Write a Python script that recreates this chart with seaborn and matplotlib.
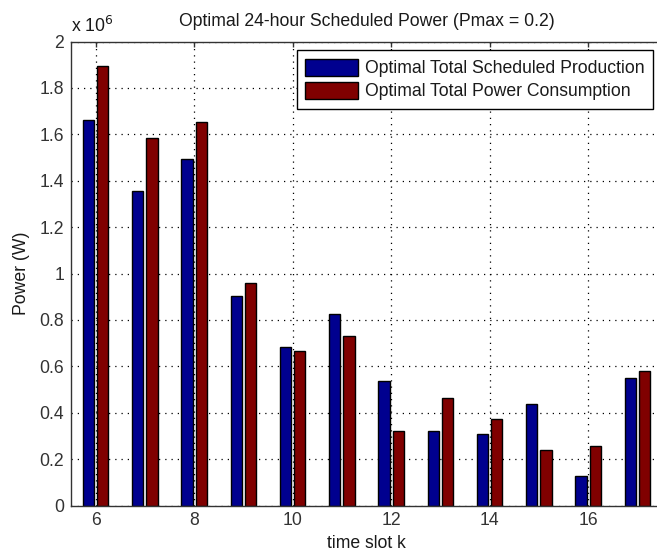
import numpy as np
import pandas as pd
import matplotlib
matplotlib.use("Agg")
import matplotlib.pyplot as plt
from matplotlib.ticker import FuncFormatter, MultipleLocator
import seaborn as sns

# Hourly schedule, time slots 6..17 (values in W)
slots = [6, 7, 8, 9, 10, 11, 12, 13, 14, 15, 16, 17]
production = [1.66e6, 1.355e6, 1.495e6, 0.905e6, 0.683e6, 0.825e6,
              0.538e6, 0.321e6, 0.310e6, 0.439e6, 0.127e6, 0.550e6]
consumption = [1.895e6, 1.585e6, 1.655e6, 0.959e6, 0.667e6, 0.731e6,
               0.321e6, 0.462e6, 0.373e6, 0.239e6, 0.258e6, 0.580e6]
series_names = ["Optimal Total Scheduled Production",
                "Optimal Total Power Consumption"]
x_ticks = [6, 8, 10, 12, 14, 16]

df = pd.DataFrame({
    "slot": slots * 2,
    "power": production + consumption,
    "series": [series_names[0]] * len(slots) + [series_names[1]] * len(slots),
})

sns.set_theme(style="white")
plt.rcParams["font.family"] = ["Liberation Sans", "DejaVu Sans"]
FS = 12.7
plt.rcParams["font.size"] = FS
plt.rcParams["text.color"] = "#1a1a1a"
plt.rcParams["axes.labelcolor"] = "#1a1a1a"
plt.rcParams["xtick.color"] = "#333333"
plt.rcParams["ytick.color"] = "#333333"

W, H = 657, 555
fig = plt.figure(figsize=(W / 100, H / 100), dpi=100)
left, right, bottom, top = 71, 662, 505.5, 41.6
ax = fig.add_axes([left / W, 1 - bottom / H, (right - left) / W, (bottom - top) / H])

sns.barplot(data=df, x="slot", y="power", hue="series", native_scale=True,
            width=0.571, gap=0.2, palette=["#00008F", "#800000"], saturation=1,
            edgecolor="black", linewidth=1.0, errorbar=None, ax=ax)

ax.set_xlim(5.5, 17.5)
ax.set_ylim(0, 2e6)
ax.set_xticks(x_ticks)
ax.set_xticklabels([str(t) for t in x_ticks])
ax.yaxis.set_major_locator(MultipleLocator(0.2e6))
ax.yaxis.set_major_formatter(FuncFormatter(lambda v, p: f"{v / 1e6:g}"))

ax.set_axisbelow(True)
ax.grid(True, color="black", linestyle=(0, (1, 4)), linewidth=0.9)
for s in ax.spines.values():
    s.set_color("#333333")
    s.set_linewidth(1.0)
    s.set_visible(True)
ax.tick_params(direction="in", top=True, right=True, length=3.6,
               width=1.0, labelsize=FS, pad=5)

ax.set_xlabel("time slot k", fontsize=FS, labelpad=4)
ax.set_ylabel("Power (W)", fontsize=FS, labelpad=7)
ax.set_title("Optimal 24-hour Scheduled Power (Pmax = 0.2)", fontsize=FS, pad=11)
ax.text(0.0, 1.012, r"x 10$^6$", transform=ax.transAxes, fontsize=FS,
        ha="left", va="bottom")

handles, labels = ax.get_legend_handles_labels()
if ax.get_legend() is not None:
    ax.get_legend().remove()
leg = fig.legend(handles, labels, loc="upper right",
                 bbox_to_anchor=(653 / W, 1 - 50 / H), bbox_transform=fig.transFigure,
                 borderaxespad=0, fancybox=False, framealpha=1, edgecolor="black",
                 handlelength=3.0, handleheight=1.1, handletextpad=0.35,
                 labelspacing=0.25, borderpad=0.5, fontsize=FS)
leg.get_frame().set_linewidth(1.0)

fig.savefig("out.png", dpi=100)
